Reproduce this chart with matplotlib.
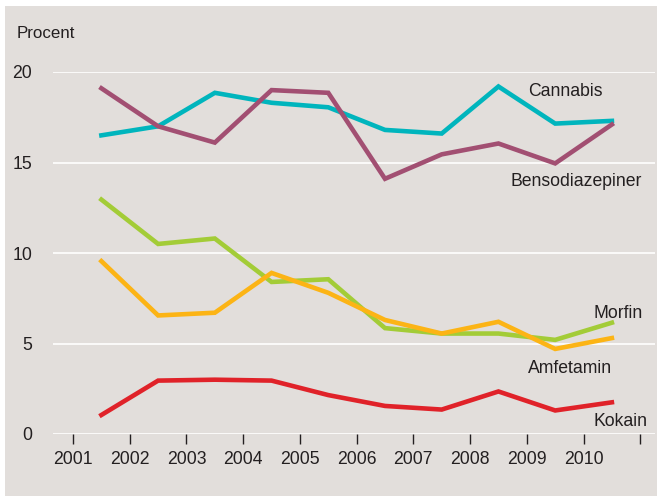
import numpy as np
import matplotlib.pyplot as plt
from matplotlib.patches import Rectangle

plt.rcParams['font.family'] = ['Liberation Sans', 'DejaVu Sans']

years = np.arange(2001, 2011) + 0.5
cannabis = [16.5, 17.0, 18.85, 18.3, 18.05, 16.8, 16.6, 19.2, 17.15, 17.3]
benso = [19.1, 17.0, 16.1, 19.0, 18.85, 14.1, 15.45, 16.05, 14.95, 17.1]
morfin = [12.95, 10.5, 10.8, 8.4, 8.55, 5.85, 5.55, 5.55, 5.2, 6.15]
amfetamin = [9.55, 6.55, 6.7, 8.9, 7.8, 6.3, 5.55, 6.2, 4.7, 5.3]
kokain = [1.05, 2.95, 3.0, 2.95, 2.15, 1.55, 1.35, 2.35, 1.3, 1.75]

tick_years = np.arange(2001, 2012)
tick_labels = [str(y) for y in range(2001, 2011)] + ['']

txt = '#231f20'
bg = '#e2dedb'

fig = plt.figure(figsize=(6.57, 4.96), dpi=100)
fig.patches.append(Rectangle((5/657, 0), 1, 490/496, transform=fig.transFigure,
                             facecolor=bg, edgecolor='none', zorder=-10))
ax = fig.add_axes([53/657, 62/496, 602/657, 362/496])
ax.set_facecolor('none')

ax.plot(years, cannabis, color='#00b5bd', lw=3.3, solid_joinstyle='miter', zorder=3)
ax.plot(years, benso, color='#a24f72', lw=3.3, solid_joinstyle='miter', zorder=3)
ax.plot(years, morfin, color='#a3cc37', lw=3.3, solid_joinstyle='miter', zorder=3)
ax.plot(years, amfetamin, color='#fcb415', lw=3.3, solid_joinstyle='miter', zorder=3)
ax.plot(years, kokain, color='#e02229', lw=3.3, solid_joinstyle='miter', zorder=3)

ax.set_xlim(2000.647, 2011.26)
ax.set_ylim(0, 20)
ax.set_yticks([0, 5, 10, 15, 20])
ax.yaxis.grid(True, color='white', lw=1.2)
ax.set_axisbelow(True)
ax.tick_params(axis='y', length=0, pad=15, labelsize=12.7, labelcolor=txt)
ax.set_xticks(tick_years)
ax.set_xticklabels(tick_labels)
ax.tick_params(axis='x', direction='out', length=7.5, width=1, color=txt,
               pad=5, labelsize=12.7, labelcolor=txt)
for s in ax.spines.values():
    s.set_visible(False)

fs = 12.7
ax.text(2009.02, 18.67, 'Cannabis', fontsize=fs, color=txt, va='baseline')
ax.text(2008.72, 13.70, 'Bensodiazepiner', fontsize=fs, color=txt, va='baseline')
ax.text(2010.17, 6.41, 'Morfin', fontsize=fs, color=txt, va='baseline')
ax.text(2009.02, 3.37, 'Amfetamin', fontsize=fs, color=txt, va='baseline')
ax.text(2010.17, 0.44, 'Kokain', fontsize=fs, color=txt, va='baseline')

fig.text(17/657, 1 - 38/496, 'Procent', fontsize=12.2, color=txt, va='baseline')

fig.savefig('out.png', dpi=100)
